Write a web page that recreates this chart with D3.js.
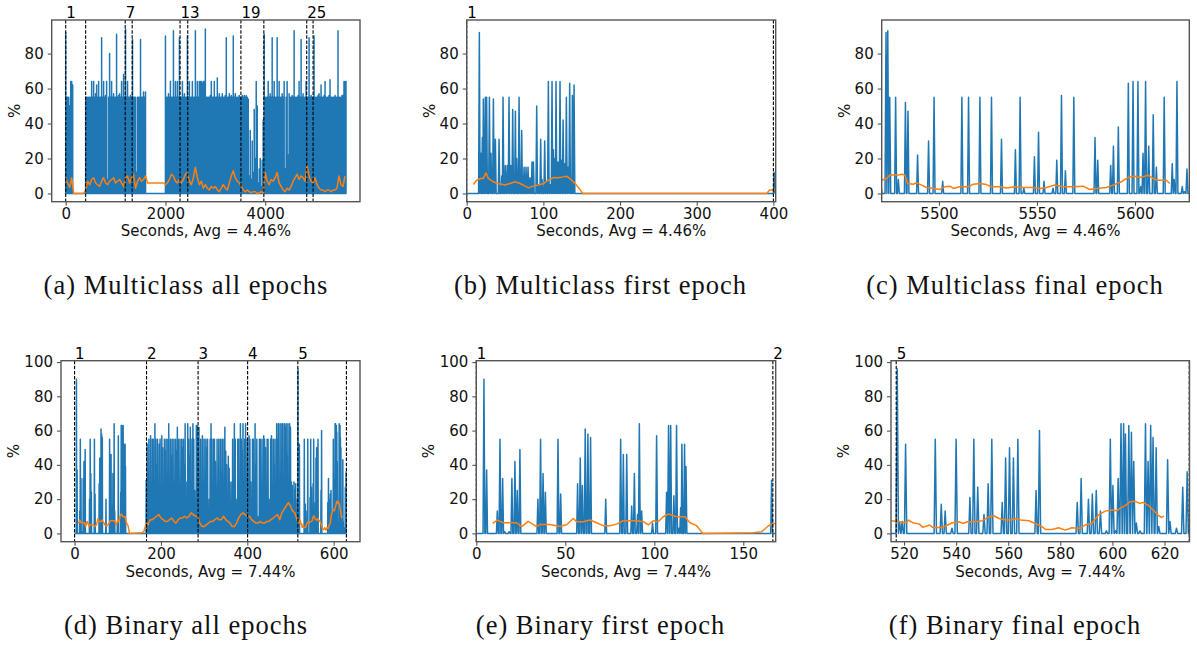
<!DOCTYPE html>
<html>
<head>
<meta charset="utf-8">
<script src="https://cdn.jsdelivr.net/npm/d3@7"></script>
<style>
  body { margin: 0; background: #fff; }
  svg { display: block; }
</style>
</head>
<body>
<svg id="fig" width="1197" height="646"></svg>
<script>
// ---------------- data ----------------

// Multiclass, all epochs: per-20 s peak utilisation (%) starting at t = 0
const mcAllPeakStart = 0, mcAllPeakStep = 20;
const mcAllPeak = [
  92,55,55,55,50,64,64,62,
  0,0,0,0,0,0,0,0,0,0,0,0,
  55,55,55,55,55,55,64,55,64,55,
  57,62,55,64,55,55,89,55,64,55,
  56,64,8,55,80,55,64,55,57,55,
  55,91,55,56,57,55,64,55,68,55,
  94,55,64,55,55,56,55,88,55,55,
  55,12,55,55,55,88,55,55,58,55,
  58,
  0,0,0,0,0,0,0,0,0,0,0,0,0,0,0,0,0,0,0,
  90,55,55,57,55,64,55,55,93,55,
  64,55,64,55,89,55,55,64,55,57,
  55,55,90,55,64,55,55,64,55,55,
  93,55,64,55,64,64,64,63,64,64,
  94,55,55,55,55,56,64,55,55,64,
  55,55,66,55,57,55,55,57,55,55,
  56,89,55,55,57,55,56,55,90,55,
  57,55,55,55,56,55,
  55,56,55,56,55,56,55,54,10,36,8,30,12,48,20,64,50,6,14,20,4,19,42,91,
  55,55,55,64,55,57,55,89,55,64,
  55,55,89,55,64,55,55,57,55,64,
  14,55,64,22,57,55,55,56,55,93,
  55,55,55,56,64,55,88,55,57,55,
  55,64,55,55,89,55,56,55,55,90,
  55,55,55,56,57,55,62,55,55,56,
  64,55,55,55,56,65,55,55,55,55,
  56,55,55,93,55,55,55,56,56,64,
  64,64
];
// Multiclass, all epochs: rolling average (%) every 40 s
const mcAllAvgStart = 0, mcAllAvgStep = 40;
const mcAllAvg = [
  9,6,3.5,9,0,0,0,0,0,0,2,
  7,5,8,9,6,5,4,7,9,6, 5,7,8,9,6,7,8,6,4,9, 10,6,9,11,3,7,9,7,8,10,
  6,6,6,6,6,6,6,6,6,
  5,
  6,8,11,10,7,6,8,6,8,11, 12,7,5,9,15,9,5,7,3,5, 3,2,4,3,4,2,1,3,5,3,
  2,6,10,13,9,7,6,4,2,1, 2,1,0.5,1,1,0,0.5,1,0,12,
  7,5,8,7,9,12,6,4,2,1, 3,2,4,7,9,11,8,10,9,7, 16,10,7,6,9,5,3,2,2,1,
  2,2,1,2,2,3,10,5,4,10
];

// Multiclass, first epoch: [seconds, %]
const mcFirstSpan = [0, 402];
const mcFirstSpikes = [
  [16.5,92],[18.3,23],[20.4,32],[21.7,54],[24.3,55],[26,55],[29.6,55],[31.7,23],[34.8,54],
  [37.4,31],[42.2,31],[45.7,10],[47.4,55],[50.4,16],[53,16],[55.2,55],[57.4,16],[60,48],
  [63.5,47],[65.2,20],[68.3,55],[71.7,36],[74.8,15],[77.4,15],[80,15],[82.6,9],[85.2,18],
  [87,18],[91.3,50],[93.9,5],[96.5,31],[98.3,8],[101.7,30],[104.3,7],[106.5,64],[108.7,5],
  [111.3,64],[113,25],[114.8,20],[116.5,64],[119.1,18],[121.7,64],[123.9,19],[125.7,42],
  [127.8,17],[130,55],[132.2,15],[134.3,63],[136.5,9],[137.8,56],[140,62],[401,12]
];
const mcFirstAvg = [
  [8.7,5.1],[13,7.6],[18.3,8.6],[21.7,8.6],[25.2,11.8],[28.3,8.6],[34.8,6.7],[40,5.7],
  [45.7,5.3],[50,4.8],[56.5,5.7],[63,6.7],[69.6,5.7],[73.9,4.8],[80.4,3.2],[87,4.2],
  [93.5,4.8],[100,5.7],[106.5,7.6],[113,9.1],[119.6,9],[126,9.5],[130.4,9.9],[137,7.6],
  [141.3,5.7],[147.8,2.3],[151.3,0],[391.3,0],[394.8,1.9],[402.2,2.3]
];

// Multiclass, final epoch
const mcFinalSpan = [5469, 5628];
const mcFinalSpikes = [
  [5470.5,4],[5473,92],[5473.9,93],[5474.9,55],[5477.9,55],[5479.3,8],[5482.9,52],[5484.2,47],
  [5489.1,22],[5494.7,30],[5497.5,55],[5501.9,7],[5511.7,55],[5515.1,55],[5520.9,55],[5526.8,55],
  [5531.9,31],[5539,25],[5541.4,55],[5543.3,3],[5548.7,21],[5550.8,35],[5553.6,7],[5558.2,3],
  [5560.1,19],[5562.5,56],[5564.5,13],[5568.8,55],[5579.6,32],[5581,19],[5587.6,16],[5589,27],
  [5591.5,38],[5596.6,63],[5599,64],[5601.5,64],[5602.9,4],[5604.1,23],[5605.4,64],[5607,27],
  [5609.3,45],[5610.9,15],[5614.9,55],[5619,17],[5620,8],[5621.4,64],[5624.1,4],[5625.3,1],[5626.5,14]
];
const mcFinalAvg = [
  [5470.8,7.6],[5473.3,8.6],[5475,10.5],[5479.3,10.5],[5481,11],[5482.7,10.5],[5483.9,5.7],
  [5486.9,5.3],[5488.6,6.1],[5491.2,4.8],[5493.7,3.4],[5497.1,2.9],[5500.5,2.3],[5503,3.8],
  [5505.6,4.2],[5507.3,2.9],[5510.7,3.8],[5515,3.8],[5517.5,5.3],[5520.9,5.7],[5524.3,5.1],
  [5526.8,3.8],[5531.1,3.8],[5534.5,3.2],[5538.7,3.8],[5543,3.4],[5548,3.4],[5551.4,2.9],
  [5554.8,3.4],[5559.1,4.8],[5563.3,3.8],[5568.4,3.8],[5573.5,4.2],[5576.9,2.3],[5580.3,2.9],
  [5585.4,3.4],[5588.8,4.8],[5593,6.7],[5596.4,9.1],[5599.8,9.9],[5602.4,9.1],[5604.9,9.9],
  [5606.6,10.5],[5609.2,8.6],[5611.7,7.6],[5616,7.6],[5617.7,5.7]
];

// Binary, first epoch
const binFirstSpan = [0, 168.2];
const binFirstSpikes = [
  [4.3,90],[5.8,37],[11.8,13],[13.3,55],[14.8,32],[15.9,1],[18.5,1],[20,32],[21.7,42],[23,25],
  [24.5,49],[34.6,20],[36.1,55],[37.5,35],[38.8,24],[45.9,55],[47.4,23],[56.9,29],[58.4,44],
  [59.6,28],[61.2,61],[62.7,58],[64.2,56],[72.7,20],[81.1,55],[82.6,46],[84.5,46],[87.3,16],
  [88.8,35],[90.6,11],[91.6,64],[92.9,13],[99,6],[101.3,57],[106.9,24],[108,63],[109.2,63],
  [111,22],[112.5,63],[113.7,3],[114.8,15],[115.5,52],[117,52],[117.8,39],[165.9,31]
];
const binFirstAvg = [
  [9.2,5.8],[11.8,7.8],[13.3,7],[15.2,6.2],[22.7,6.2],[25.5,4],[29.2,7],[33.9,4],[35.8,5.2],
  [41.4,5.2],[47,4],[50.7,5],[54.5,8.7],[56.4,6.8],[60.1,6.8],[63.9,7.8],[67.6,6.2],[71.3,4.5],
  [75.1,4.5],[78.8,5.4],[82.6,7.4],[90.1,7.4],[93.8,6.8],[96.6,4.9],[99.4,7.4],[102.2,6.8],
  [105,9.7],[107.9,11.3],[112.5,9.7],[117.2,9.7],[120,6.2],[123.8,4.5],[127.2,0],[155.6,0.4],
  [160.3,1],[164,4.3],[166.9,5.8],[168.2,5.8]
];

// Binary, epochs 2-4: per-2 s peak utilisation (%) starting at t = 168
const binMidPeakStart = 168, binMidPeakStep = 2;
const binMidPeak = [
  52,0,55,30,57,0,55,55,15,64, 55,40,55,0,52,55,25,57,50,0,
  55,48,55,10,55,64,0,55,45,55, 30,55,0,55,48,62,55,20,55,0,
  55,50,55,40,64,0,30,64,55,45, 62,0,55,64,55,25,0,63,63,
  55,62,10,55,0,57,30,55,0,55, 50,55,0,20,55,64,55,0,55,55,
  42,0,55,15,55,0,55,35,55,0, 55,62,48,40,10,45,38,0,30,20,
  55,0,64,55,20,0,55,55,0,64, 55,48,64,0,55,64,30,55,
  0,57,55,30,0,55,55,0,64,40, 55,0,10,55,55,0,55,25,57,55,
  50,0,55,55,20,0,55,57,0,55, 40,55,0,64,55,64,30,64,0,64,
  64,0,64,62,64,45,64,0,64,62, 30,28,0,30,25,29,0,20
];
// Binary, epochs 2-4: rolling average (%) every 5 s starting at t = 170
const binMidAvgStart = 170, binMidAvgStep = 5;
const binMidAvg = [
  5,8,8,9,10,11,9,8,7,7, 8,9,7,6,8,9,9,10,9,10,
  12,11,10,10,6,4,4,5,6,7, 7,8,9,8,8,10,8,7,6,4,
  4,6,9,11,12,11,10,10,8,7, 6,6,7,6,6,7,7,8,9,10,
  11,8,12,14,16,18,16,13,12,8
];

// Binary, final epoch
const binFinalSpan = [515, 629.6];
const binFinalSpikes = [
  [517.4,96],[518.3,7],[519.3,7],[520.6,52],[532,55],[534.3,17],[535.8,13],[538.4,3],[540,55],
  [545.3,21],[546.8,55],[548.3,27],[550.7,11],[552.3,29],[553.7,55],[557.7,18],[559,44],[560.5,50],
  [562,44],[563.7,55],[570.7,25],[572,60],[586.5,18],[588,32],[590.8,20],[592.3,23],[593.8,25],
  [595.4,13],[597.7,1.5],[599.2,55],[600.2,28],[601.2,1.5],[602.2,32],[603.3,64],[604.3,64],
  [605,58],[606.3,63],[607.3,59],[608.2,42],[609.2,6],[610.6,1.5],[612.7,64],[613.7,42],[614.7,63],
  [615.6,56],[616.8,50],[617.8,4],[621.2,43],[622.1,7],[624.6,3],[627,27],[628.7,36]
];
const binFinalAvg = [
  [515.1,7.4],[518.3,6.8],[520.8,6.2],[521.8,7.8],[523.4,6.2],[525.9,5.4],[527.2,3.5],[529.8,4.9],
  [531,3.5],[534.8,3.5],[536.7,4.9],[538.6,6.2],[541.2,6.8],[542.5,5.8],[544.4,6.8],[547.5,6.8],
  [550.1,7.4],[552.6,9.7],[554.5,10.3],[556.5,8.7],[559,7.8],[560.9,7.8],[562.8,8.7],[564.7,7.8],
  [567.9,7.4],[570.4,5.8],[573,3.9],[574.3,2.3],[576.8,2.3],[579.4,3.3],[581.9,1.9],[584.4,3.3],
  [587.6,2.9],[589.5,4.9],[592.1,5.8],[594.6,10.7],[597.2,13],[599.7,13.6],[601.6,13.2],[602.9,14.6],
  [604.8,16.1],[606.7,18.4],[608.6,18.8],[610.5,17.5],[611.8,18.1],[613.7,16.5],[615.6,13.6],
  [617.5,10.7],[618.8,9.3],[619.8,10.1]
];

// Epoch boundaries (seconds) and the epoch numbers written above them
const mcEpochLines = [0, 400, 1193, 1333, 2293, 2447, 3513, 3973, 4833, 4960];
const mcEpochLabels = [[0, "1"], [1193, "7"], [2293, "13"], [3513, "19"], [4833, "25"]];
const binEpochLines = [0, 166.6, 286, 400.7, 517, 629.5];
const binEpochLabels = [[0, "1"], [166.6, "2"], [286, "3"], [400.7, "4"], [517, "5"]];

// Tick values and texts
const mcYTicks = [0, 20, 40, 60, 80];
const binYTicks = [0, 20, 40, 60, 80, 100];
const xTicksA = [0, 2000, 4000];
const xTicksB = [0, 100, 200, 300, 400];
const xTicksC = [5500, 5550, 5600];
const xTicksD = [0, 200, 400, 600];
const xTicksE = [0, 50, 100, 150];
const xTicksF = [520, 540, 560, 580, 600, 620];
const mcXLabel = "Seconds, Avg = 4.46%";
const binXLabel = "Seconds, Avg = 7.44%";
const captions = [
  "(a) Multiclass all epochs", "(b) Multiclass first epoch", "(c) Multiclass final epoch",
  "(d) Binary all epochs", "(e) Binary first epoch", "(f) Binary final epoch"
];

// ---------------- helpers ----------------

// evenly sampled values -> [t, v]
function sampled(start, step, values) {
  return values.map((v, i) => [start + i * step, v]);
}
// spikes drawn as narrow peaks that fall back to the 0 % baseline
function spikeSeries(spikes, span, hw) {
  const s = spikes.slice().sort((a, b) => a[0] - b[0]);
  const pts = [[span[0], 0]];
  s.forEach(([t, v], k) => {
    const prev = s[k - 1], next = s[k + 1];
    const lf = prev ? Math.max(t - hw, (prev[0] + t) / 2) : t - hw;
    const rf = next ? Math.min(t + hw, (t + next[0]) / 2) : t + hw;
    pts.push([lf, 0], [t, v], [rf, 0]);
  });
  pts.push([span[1], 0]);
  return pts;
}
function padded(lo, hi) {
  const m = (hi - lo) * 0.05;
  return [lo - m, hi + m];
}

// ---------------- series per panel ----------------

const mcAllSpikes = sampled(mcAllPeakStart, mcAllPeakStep, mcAllPeak);
const mcAllSpan = [mcAllPeakStart, mcAllPeakStart + mcAllPeakStep * (mcAllPeak.length - 1)];
const binAllSpikes = binFirstSpikes
  .concat(sampled(binMidPeakStart, binMidPeakStep, binMidPeak))
  .concat(binFinalSpikes);
const binAllSpan = [0, 629.5];
const binAllAvg = binFirstAvg
  .concat(sampled(binMidAvgStart, binMidAvgStep, binMidAvg))
  .concat(binFinalAvg);

const BLUE = "#1f77b4", ORANGE = "#ff7f0e", FRAME = "#555";
const SANS = "DejaVu Sans", SERIF = "Liberation Serif";

const topY = [20, 201.7], botY = [360.7, 541.7];
const mcYDomain = [-4.7, 99.2], binYDomain = [-4.85, 100.8];
const colCenter = [186, 600.5, 1015];

const panels = [
  { box: [51.7, topY[0], 360, topY[1]], xDomain: padded(mcAllSpan[0], mcAllSpan[1]), yDomain: mcYDomain,
    xTicks: xTicksA, yTicks: mcYTicks, blue: spikeSeries(mcAllSpikes, mcAllSpan, 0.6),
    avg: sampled(mcAllAvgStart, mcAllAvgStep, mcAllAvg), lines: mcEpochLines, labels: mcEpochLabels,
    xlabel: mcXLabel, ylOff: 37, xlY: 236, cap: captions[0], capX: colCenter[0], capY: 294 },
  { box: [466.7, topY[0], 775.7, topY[1]], xDomain: [0, 403], yDomain: mcYDomain,
    xTicks: xTicksB, yTicks: mcYTicks, blue: spikeSeries(mcFirstSpikes, mcFirstSpan, 1.0),
    avg: mcFirstAvg, lines: mcEpochLines, labels: mcEpochLabels,
    xlabel: mcXLabel, ylOff: 37, xlY: 236, cap: captions[1], capX: colCenter[1], capY: 294 },
  { box: [881.7, topY[0], 1189.3, topY[1]], xDomain: [5470.8, 5627.7], yDomain: mcYDomain,
    xTicks: xTicksC, yTicks: mcYTicks, blue: spikeSeries(mcFinalSpikes, mcFinalSpan, 0.5),
    avg: mcFinalAvg, lines: mcEpochLines, labels: mcEpochLabels,
    xlabel: mcXLabel, ylOff: 37, xlY: 236, cap: captions[2], capX: colCenter[2], capY: 294 },
  { box: [61, botY[0], 360, botY[1]], xDomain: padded(binAllSpan[0], binAllSpan[1]), yDomain: binYDomain,
    xTicks: xTicksD, yTicks: binYTicks, blue: spikeSeries(binAllSpikes, binAllSpan, 0.5),
    avg: binAllAvg, lines: binEpochLines, labels: binEpochLabels,
    xlabel: binXLabel, ylOff: 47, xlY: 577, cap: captions[3], capX: colCenter[0], capY: 634 },
  { box: [476.3, botY[0], 775.7, botY[1]], xDomain: [0, 168.2], yDomain: binYDomain,
    xTicks: xTicksE, yTicks: binYTicks, blue: spikeSeries(binFirstSpikes, binFirstSpan, 0.5),
    avg: binFirstAvg, lines: binEpochLines, labels: binEpochLabels,
    xlabel: binXLabel, ylOff: 47, xlY: 577, cap: captions[4], capX: colCenter[1], capY: 634 },
  { box: [891, botY[0], 1189.5, botY[1]], xDomain: [515, 629.6], yDomain: binYDomain,
    xTicks: xTicksF, yTicks: binYTicks, blue: spikeSeries(binFinalSpikes, binFinalSpan, 0.45),
    avg: binFinalAvg, lines: binEpochLines, labels: binEpochLabels,
    xlabel: binXLabel, ylOff: 47, xlY: 577, cap: captions[5], capX: colCenter[2], capY: 634 }
];

// ---------------- drawing ----------------

const svg = d3.select("#fig");

panels.forEach((p, idx) => {
  const [l, t, r, b] = p.box;
  const x = d3.scaleLinear().domain(p.xDomain).range([l, r]);
  const y = d3.scaleLinear().domain(p.yDomain).range([b, t]);
  const g = svg.append("g");
  const clipId = "clip" + idx;
  g.append("clipPath").attr("id", clipId)
    .append("rect").attr("x", l).attr("y", t).attr("width", r - l).attr("height", b - t);

  const line = d3.line().x(d => x(d[0])).y(d => y(d[1]));
  const plot = g.append("g").attr("clip-path", `url(#${clipId})`);

  plot.append("path").datum(p.blue)
    .attr("d", line).attr("fill", "none").attr("stroke", BLUE)
    .attr("stroke-width", 1.5).attr("stroke-linejoin", "round");
  plot.append("path").datum(p.avg)
    .attr("d", line).attr("fill", "none").attr("stroke", ORANGE)
    .attr("stroke-width", 1.5).attr("stroke-linejoin", "round");

  const [d0, d1] = p.xDomain;
  const inView = tt => tt >= d0 - 1e-6 && tt <= d1 + 1e-6;
  g.selectAll(null).data(p.lines.filter(inView)).enter().append("line")
    .attr("x1", d => x(d)).attr("x2", d => x(d))
    .attr("y1", t).attr("y2", b)
    .attr("stroke", "#000").attr("stroke-width", 1.1).attr("stroke-dasharray", "3.5,1.6");

  g.selectAll(null).data(p.labels.filter(d => inView(d[0]))).enter().append("text")
    .attr("x", d => x(d[0]) + 0.5).attr("y", t - 2)
    .attr("font-family", SANS).attr("font-size", 15).attr("fill", "#000")
    .text(d => d[1]);

  // axes
  const gx = g.append("g").attr("transform", `translate(0,${b})`)
    .call(d3.axisBottom(x).tickValues(p.xTicks).tickFormat(d3.format("d"))
      .tickSize(4).tickPadding(3).tickSizeOuter(0));
  const gy = g.append("g").attr("transform", `translate(${l},0)`)
    .call(d3.axisLeft(y).tickValues(p.yTicks).tickFormat(d3.format("d"))
      .tickSize(4).tickPadding(4).tickSizeOuter(0));
  [gx, gy].forEach(ax => {
    ax.select(".domain").remove();
    ax.attr("font-family", SANS).attr("font-size", 15);
    ax.selectAll(".tick line").attr("stroke", FRAME).attr("stroke-width", 1.1);
    ax.selectAll(".tick text").attr("fill", "#111");
  });

  // frame
  g.append("rect").attr("x", l).attr("y", t).attr("width", r - l).attr("height", b - t)
    .attr("fill", "none").attr("stroke", FRAME).attr("stroke-width", 1.4);

  // axis titles
  g.append("text").attr("x", (l + r) / 2).attr("y", p.xlY)
    .attr("text-anchor", "middle").attr("font-family", SANS).attr("font-size", 15).attr("fill", "#111")
    .text(p.xlabel);
  g.append("text")
    .attr("transform", `translate(${l - p.ylOff},${(t + b) / 2}) rotate(-90)`)
    .attr("text-anchor", "middle").attr("dominant-baseline", "central")
    .attr("font-family", SANS).attr("font-size", 15).attr("fill", "#111")
    .text("%");

  // sub-figure caption
  svg.append("text").attr("x", p.capX).attr("y", p.capY)
    .attr("text-anchor", "middle").attr("font-family", SERIF).attr("font-size", 26.5)
    .attr("letter-spacing", 1).attr("fill", "#111")
    .text(p.cap);
});
</script>
</body>
</html>
